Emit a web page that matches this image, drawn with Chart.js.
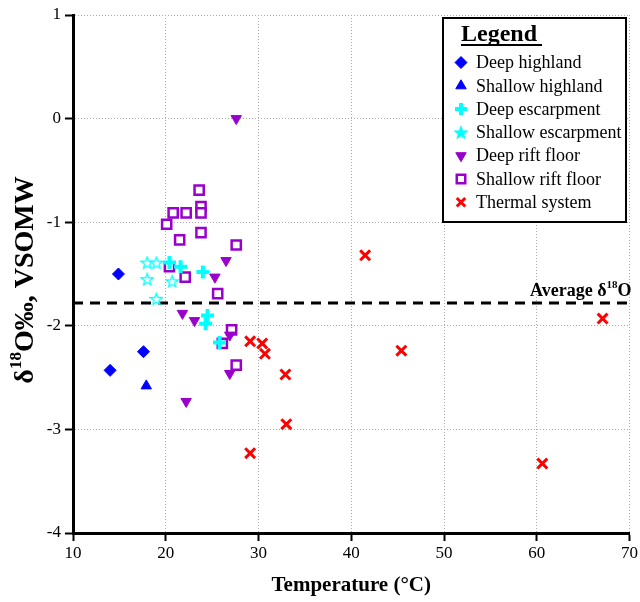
<!DOCTYPE html>
<html lang="en">
<head>
<meta charset="UTF-8">
<title>δ18O vs temperature</title>
<script src="https://cdn.jsdelivr.net/npm/chart.js"></script>
<style>
    html, body { margin: 0; padding: 0; background: #fff; }
    #wrap { width: 640px; height: 602px; }
</style>
</head>
<body>
<div id="wrap"><canvas id="chart"></canvas></div>
<script>
// values: temperature (°C) and δ18O (‰)
const deepHighlandT = [14.9, 17.6, 14.0];
const deepHighlandO = [-1.50, -2.25, -2.43];
const shallowHighlandT = [17.9];
const shallowHighlandO = [-2.58];
const deepEscarpT = [20.4, 21.6, 24.0, 24.5, 24.3, 25.8];
const deepEscarpO = [-1.39, -1.43, -1.48, -1.90, -1.98, -2.16];
const shallowEscarpT = [18.0, 19.0, 18.0, 20.7, 19.0];
const shallowEscarpO = [-1.39, -1.39, -1.55, -1.57, -1.74];
const deepRiftT = [27.6, 26.5, 25.3, 21.8, 23.1, 26.9, 26.9, 22.2];
const deepRiftO = [0.0, -1.37, -1.53, -1.88, -1.95, -2.09, -2.46, -2.73];
const shallowRiftT = [23.6, 23.8, 23.8, 22.2, 20.8, 20.1, 21.5, 23.8, 27.6, 20.4, 22.1, 25.6, 27.1, 26.1, 27.6];
const shallowRiftO = [-0.69, -0.85, -0.91, -0.91, -0.91, -1.02, -1.17, -1.10, -1.22, -1.43, -1.53, -1.69, -2.04, -2.17, -2.38];
const thermalT = [29.1, 30.4, 30.7, 32.9, 33.0, 29.1, 41.5, 45.4, 67.1, 60.6];
const thermalO = [-2.15, -2.17, -2.27, -2.47, -2.95, -3.23, -1.32, -2.24, -1.93, -3.33];
const averageO = -1.78;
const xTicks = [10, 20, 30, 40, 50, 60, 70];
const yTicks = [1, 0, -1, -2, -3, -4];

const SERIF = '"Liberation Serif", "DejaVu Serif", serif';

function pts(xs, ys) {
    return xs.map((x, i) => ({ x: x, y: ys[i] }));
}

// five-point star marker (hollow for data, solid for legend)
function makeStar(filled) {
    const c = document.createElement('canvas');
    c.width = 14; c.height = 14;
    const g = c.getContext('2d');
    g.beginPath();
    for (let i = 0; i < 10; i++) {
        const r = i % 2 ? 2.6 : 6.2;
        const a = -Math.PI / 2 + i * Math.PI / 5;
        g.lineTo(7 + r * Math.cos(a), 7.6 + r * Math.sin(a));
    }
    g.closePath();
    g.fillStyle = filled ? '#00FFFF' : '#fff';
    g.fill();
    g.strokeStyle = '#00FFFF';
    g.lineWidth = 1.3;
    g.stroke();
    return c;
}
const starHollow = makeStar(false);
const starSolid = makeStar(true);

const datasets = [
    { label: 'Deep highland', data: pts(deepHighlandT, deepHighlandO), pointStyle: 'rectRot', radius: 6,
      backgroundColor: '#0000FF', borderColor: '#0000FF', borderWidth: 1 },
    { label: 'Shallow highland', data: pts(shallowHighlandT, shallowHighlandO), pointStyle: 'triangle', radius: 6,
      backgroundColor: '#0000FF', borderColor: '#0000FF', borderWidth: 1 },
    { label: 'Deep escarpment', data: pts(deepEscarpT, deepEscarpO), pointStyle: 'cross', radius: 6.5,
      backgroundColor: '#00FFFF', borderColor: '#00FFFF', borderWidth: 4 },
    { label: 'Shallow escarpment', data: pts(shallowEscarpT, shallowEscarpO), pointStyle: starHollow, legendStyle: starSolid,
      backgroundColor: '#00FFFF', borderColor: '#00FFFF', borderWidth: 1 },
    { label: 'Deep rift floor', data: pts(deepRiftT, deepRiftO), pointStyle: 'triangle', rotation: 180, radius: 6,
      backgroundColor: '#9900CC', borderColor: '#9900CC', borderWidth: 1 },
    { label: 'Shallow rift floor', data: pts(shallowRiftT, shallowRiftO), pointStyle: 'rect', radius: 6.5,
      backgroundColor: '#fff', borderColor: '#9900CC', borderWidth: 2.5 },
    { label: 'Thermal system', data: pts(thermalT, thermalO), pointStyle: 'crossRot', radius: 7,
      backgroundColor: '#FF0000', borderColor: '#FF0000', borderWidth: 3 },
    { type: 'line', label: 'Average', data: [{ x: 10, y: averageO }, { x: 70, y: averageO }],
      borderColor: '#000', borderWidth: 3, borderDash: [10, 7], pointRadius: 0, skipLegend: true }
];

// draw text pieces, some as superscript, from x on baseline y
function drawSup(ctx, size, parts, x, y) {
    let cx = x;
    parts.forEach(p => {
        ctx.font = 'bold ' + (p.sup ? Math.round(size * 0.6) : size) + 'px ' + SERIF;
        ctx.fillText(p.t, cx, p.sup ? y - size * 0.42 : y);
        cx += ctx.measureText(p.t).width;
    });
    return cx - x;
}
function measureSup(ctx, size, parts) {
    let w = 0;
    parts.forEach(p => {
        ctx.font = 'bold ' + (p.sup ? Math.round(size * 0.6) : size) + 'px ' + SERIF;
        w += ctx.measureText(p.t).width;
    });
    return w;
}

const extras = {
    id: 'extras',
    afterDraw(chart) {
        const ctx = chart.ctx;
        const xs = chart.scales.x, ys = chart.scales.y;

        // average label
        const avgParts = [{ t: 'Average δ' }, { t: '18', sup: true }, { t: 'O' }];
        ctx.save();
        ctx.fillStyle = '#000';
        ctx.textAlign = 'left';
        ctx.textBaseline = 'alphabetic';
        const aw = measureSup(ctx, 18, avgParts);
        drawSup(ctx, 18, avgParts, xs.getPixelForValue(70) - aw + 2, ys.getPixelForValue(averageO) - 7);
        ctx.restore();

        // y axis title, rotated
        const yParts = [{ t: 'δ' }, { t: '18', sup: true }, { t: 'O‰, VSOMW' }];
        ctx.save();
        ctx.fillStyle = '#000';
        ctx.translate(33, 280);
        ctx.rotate(-Math.PI / 2);
        const yw = measureSup(ctx, 28, yParts);
        drawSup(ctx, 28, yParts, -yw / 2, 0);
        ctx.restore();

        // legend box
        const bx = 443, by = 18, bw = 183, bh = 204;
        ctx.save();
        ctx.fillStyle = '#fff';
        ctx.fillRect(bx, by, bw, bh);
        ctx.strokeStyle = '#000';
        ctx.lineWidth = 2;
        ctx.strokeRect(bx, by, bw, bh);
        ctx.fillStyle = '#000';
        ctx.font = 'bold 24px ' + SERIF;
        ctx.textBaseline = 'alphabetic';
        ctx.fillText('Legend', 461, 41);
        const lw = ctx.measureText('Legend').width;
        ctx.fillRect(461, 44, lw + 5, 2);

        ctx.font = '18px ' + SERIF;
        ctx.textBaseline = 'middle';
        let row = 0;
        chart.data.datasets.forEach(ds => {
            if (ds.skipLegend) return;
            const y = 62.5 + row * 23.3;
            ctx.save();
            ctx.fillStyle = ds.backgroundColor;
            ctx.strokeStyle = ds.borderColor;
            ctx.lineWidth = ds.borderWidth;
            Chart.helpers.drawPoint(ctx, {
                pointStyle: ds.legendStyle || ds.pointStyle,
                rotation: ds.rotation || 0,
                radius: Math.min(ds.radius || 6, 6),
                borderWidth: ds.borderWidth
            }, 461, y);
            ctx.restore();
            ctx.fillStyle = '#000';
            ctx.fillText(ds.label, 476, y + 1);
            row++;
        });
        ctx.restore();
    }
};

const gridCommon = {
    color: '#aaa',
    lineWidth: 1,
    tickColor: '#000',
    tickWidth: 2,
    tickLength: 8,
    tickBorderDash: []
};

new Chart(document.getElementById('chart'), {
    type: 'scatter',
    data: { datasets: datasets },
    plugins: [extras],
    options: {
        responsive: true,
        maintainAspectRatio: false,
        animation: false,
        layout: { padding: { top: 15, right: 8, left: 0, bottom: 0 } },
        plugins: { legend: { display: false }, tooltip: { enabled: false } },
        scales: {
            x: {
                type: 'linear', min: 10, max: 70,
                afterBuildTicks: s => { s.ticks = xTicks.map(v => ({ value: v })); },
                afterFit: s => { s.height = 69; },
                ticks: { color: '#000', font: { family: SERIF, size: 17 }, padding: 2, maxRotation: 0 },
                grid: gridCommon,
                border: { color: '#000', width: 3, dash: [1, 2] },
                title: { display: true, text: 'Temperature (°C)', color: '#000',
                         font: { family: SERIF, size: 21, weight: 'bold' }, padding: { top: 2, bottom: 4 } }
            },
            y: {
                type: 'linear', min: -4, max: 1,
                afterBuildTicks: s => { s.ticks = yTicks.map(v => ({ value: v })); },
                afterFit: s => { s.width = 73; },
                ticks: { color: '#000', font: { family: SERIF, size: 17 }, padding: 4 },
                grid: gridCommon,
                border: { color: '#000', width: 3, dash: [1, 2] }
            }
        }
    }
});
</script>
</body>
</html>
